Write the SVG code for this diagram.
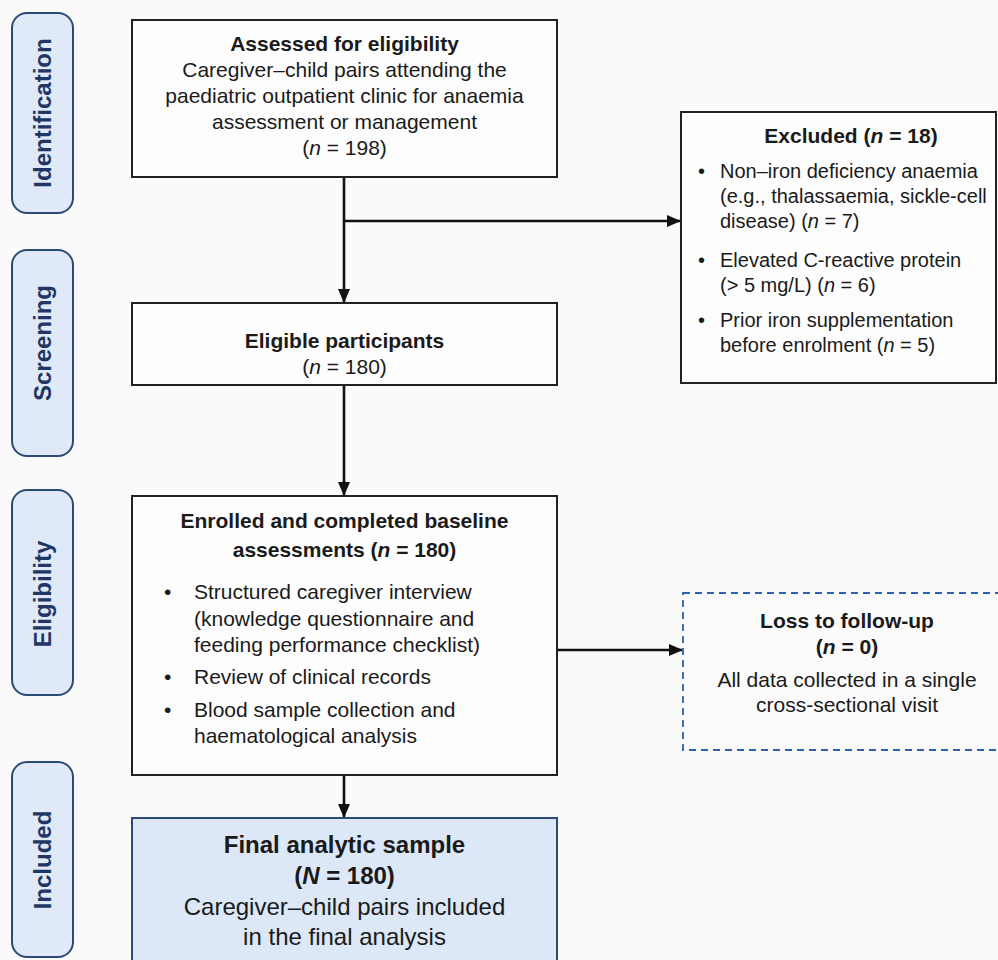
<svg xmlns="http://www.w3.org/2000/svg" width="998" height="960" viewBox="0 0 998 960">
<style>
text{font-family:"Liberation Sans",Arial,sans-serif;fill:#1a1a1a}
.side rect{fill:#dfe9f8;stroke:#2c4a78;stroke-width:2}
.side text{font-size:24px;font-weight:bold;fill:#1f3764;text-anchor:middle}
.box{fill:#fdfdfd;stroke:#222;stroke-width:2}
.t{font-size:21px;text-anchor:middle}
.b{font-weight:bold}
.l{font-size:21px}
.ex{font-size:20px}
.big{font-size:24px;text-anchor:middle}
.conn{stroke:#111;stroke-width:2.6;fill:none}
</style>
<defs>
<marker id="ah" markerWidth="14" markerHeight="12" refX="13" refY="6" orient="auto" markerUnits="userSpaceOnUse">
<path d="M0,0 L14,6 L0,12 Z" fill="#111"/>
</marker>
</defs>
<rect width="998" height="960" fill="#fafafa"/>

<g id="side-identification" class="side">
<rect x="12" y="13" width="61" height="200" rx="15"/>
<text transform="translate(51,113) rotate(-90)">Identification</text>
</g>
<g id="side-screening" class="side">
<rect x="12" y="250" width="61" height="206" rx="15"/>
<text transform="translate(51,343) rotate(-90)">Screening</text>
</g>
<g id="side-eligibility" class="side">
<rect x="12" y="490" width="61" height="205" rx="15"/>
<text transform="translate(51,594) rotate(-90)">Eligibility</text>
</g>
<g id="side-included" class="side">
<rect x="12" y="762" width="61" height="195" rx="15"/>
<text transform="translate(51,860) rotate(-90)">Included</text>
</g>

<g id="connectors">
<line class="conn" x1="344" y1="177" x2="344" y2="302" marker-end="url(#ah)"/>
<line class="conn" x1="344" y1="221" x2="680" y2="221" marker-end="url(#ah)"/>
<line class="conn" x1="344" y1="385" x2="344" y2="495" marker-end="url(#ah)"/>
<line class="conn" x1="557" y1="650" x2="682" y2="650" marker-end="url(#ah)"/>
<line class="conn" x1="344" y1="775" x2="344" y2="817" marker-end="url(#ah)"/>
</g>

<g id="assessed">
<rect class="box" x="132" y="20" width="425" height="157"/>
<text class="t b" x="344.5" y="51">Assessed for eligibility</text>
<text class="t" x="344.5" y="77">Caregiver–child pairs attending the</text>
<text class="t" x="344.5" y="103">paediatric outpatient clinic for anaemia</text>
<text class="t" x="344.5" y="129">assessment or management</text>
<text class="t" x="344.5" y="155">(<tspan font-style="italic">n</tspan> = 198)</text>
</g>

<g id="excluded">
<rect class="box" x="681" y="112" width="315" height="271"/>
<text class="t b" x="851" y="143">Excluded (<tspan font-style="italic">n</tspan> = 18)</text>
<text class="ex" x="698" y="178">•</text>
<text class="ex" x="720" y="178">Non–iron deficiency anaemia</text>
<text class="ex" x="720" y="203">(e.g., thalassaemia, sickle-cell</text>
<text class="ex" x="720" y="228">disease) (<tspan font-style="italic">n</tspan> = 7)</text>
<text class="ex" x="698" y="267">•</text>
<text class="ex" x="720" y="267">Elevated C-reactive protein</text>
<text class="ex" x="720" y="292">(&gt; 5 mg/L) (<tspan font-style="italic">n</tspan> = 6)</text>
<text class="ex" x="698" y="327">•</text>
<text class="ex" x="720" y="327">Prior iron supplementation</text>
<text class="ex" x="720" y="352">before enrolment (<tspan font-style="italic">n</tspan> = 5)</text>
</g>

<g id="eligible">
<rect class="box" x="132" y="303" width="425" height="82"/>
<text class="t b" x="344.5" y="348">Eligible participants</text>
<text class="t" x="344.5" y="374">(<tspan font-style="italic">n</tspan> = 180)</text>
</g>

<g id="enrolled">
<rect class="box" x="132" y="496" width="425" height="279"/>
<text class="t b" x="344.5" y="528">Enrolled and completed baseline</text>
<text class="t b" x="344.5" y="557">assessments (<tspan font-style="italic">n</tspan> = 180)</text>
<text class="l" x="164" y="599">•</text>
<text class="l" x="194" y="599">Structured caregiver interview</text>
<text class="l" x="194" y="626">(knowledge questionnaire and</text>
<text class="l" x="194" y="652">feeding performance checklist)</text>
<text class="l" x="164" y="684">•</text>
<text class="l" x="194" y="684">Review of clinical records</text>
<text class="l" x="164" y="717">•</text>
<text class="l" x="194" y="717">Blood sample collection and</text>
<text class="l" x="194" y="743">haematological analysis</text>
</g>

<g id="loss">
<rect x="683" y="593" width="318" height="157" fill="#fbfbfb" stroke="#2f5fb0" stroke-width="1.8" stroke-dasharray="7,5"/>
<text class="t b" x="847" y="628">Loss to follow-up</text>
<text class="t b" x="847" y="654">(<tspan font-style="italic">n</tspan> = 0)</text>
<text class="t" x="847" y="687">All data collected in a single</text>
<text class="t" x="847" y="712">cross-sectional visit</text>
</g>

<g id="final">
<rect x="132" y="818" width="425" height="150" fill="#dce7f7" stroke="#2c4a78" stroke-width="2"/>
<text class="big b" x="344.5" y="853">Final analytic sample</text>
<text class="big b" x="344.5" y="884">(<tspan font-style="italic">N</tspan> = 180)</text>
<text class="big" x="344.5" y="915">Caregiver–child pairs included</text>
<text class="big" x="344.5" y="945">in the final analysis</text>
</g>
</svg>
